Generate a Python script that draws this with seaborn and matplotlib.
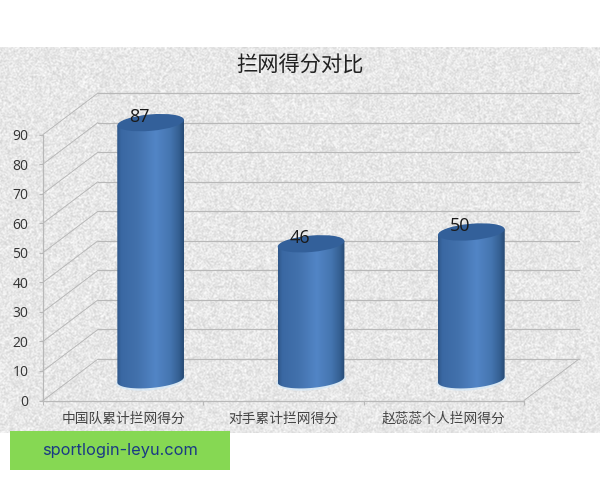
import numpy as np
import seaborn as sns
import matplotlib
matplotlib.use("Agg")
import matplotlib.pyplot as plt
from matplotlib.colors import LinearSegmentedColormap
from matplotlib.lines import Line2D
from matplotlib.patches import Ellipse, Rectangle
from matplotlib.path import Path
from matplotlib.transforms import Affine2D

categories = ["中国队累计拦网得分", "对手累计拦网得分", "赵蕊蕊个人拦网得分"]
values = [87, 46, 50]
y_ticks = [0, 10, 20, 30, 40, 50, 60, 70, 80, 90]
title_text = "拦网得分对比"
watermark = "sportlogin-leyu.com"

sns.set_style("white")
plt.rcParams["font.family"] = ["Noto Sans CJK SC", "DejaVu Sans"]
NUM_FONT = ["Open Sans", "DejaVu Sans"]

W, H = 600, 480
fig = plt.figure(figsize=(W / 100, H / 100), dpi=100, facecolor="white")


def box(left, right, top, bottom):
    return [left / W, 1 - bottom / H, (right - left) / W, (bottom - top) / H]


# Background layer in pixel coordinates
bg = fig.add_axes([0, 0, 1, 1], zorder=0)
bg.axis("off")
yy, xx = np.mgrid[47:433, 0:W]
tex = np.sin(xx * 12.9898 + yy * 78.233) * 43758.5453
tex = tex - np.floor(tex)
tex = (tex + np.roll(tex, 1, 0) + np.roll(tex, 1, 1) + np.roll(np.roll(tex, 1, 0), 1, 1)) / 4
bg.imshow(231 + (tex - 0.5) * 48, cmap="gray", vmin=0, vmax=255,
          extent=(0, W, 433, 47), aspect="auto", interpolation="bilinear", zorder=0)
bg.set_xlim(0, W)
bg.set_ylim(H, 0)

# Front axes: ticks and labels
AX_L, AX_R, AX_T, AX_B = 43, 524, 134.5, 400.5
DX, DY = 55, 41.5
GRID = "#b8b8b8"
front = fig.add_axes(box(AX_L, AX_R, AX_T, AX_B), zorder=1)
front.patch.set_alpha(0)
front.set_xlim(-0.5, 2.5)
front.set_ylim(0, 90)
for s in ["top", "right"]:
    front.spines[s].set_visible(False)
for s in ["left", "bottom"]:
    front.spines[s].set_color(GRID)
    front.spines[s].set_linewidth(0.9)
front.set_yticks(y_ticks)
front.set_yticklabels([str(v) for v in y_ticks], family=NUM_FONT)
front.tick_params(axis="y", left=True, length=3, color=GRID, labelsize=10,
                  labelcolor="#333333", pad=7.5)
front.set_xticks([-0.5, 0.5, 1.5, 2.5])
front.set_xticklabels([])
front.set_xticks([0, 1, 2], minor=True)
front.set_xticklabels(categories, minor=True, fontsize=9.9, color="#444444")
front.tick_params(axis="x", which="major", bottom=True, length=3, color=GRID)
front.tick_params(axis="x", which="minor", bottom=False, length=0, pad=8)

# Back wall and side wall lines
for v in y_ticks:
    x0, y0 = front.transData.transform((-0.5, v))
    y_px = H - y0
    bg.add_line(Line2D([x0, x0 + DX], [y_px, y_px - DY], color=GRID, lw=0.7, zorder=2))
    bg.add_line(Line2D([x0 + DX, AX_R + DX], [y_px - DY, y_px - DY], color=GRID, lw=0.9, zorder=2))
bg.add_line(Line2D([AX_R, AX_R + DX], [AX_B, AX_B - DY], color=GRID, lw=0.7, zorder=2))

# Bars, drawn by seaborn on an axes half-way into the depth
ax = fig.add_axes(box(AX_L + DX / 2, AX_R + DX / 2, AX_T - DY / 2, AX_B - DY / 2), zorder=2)
ax.patch.set_alpha(0)
sns.barplot(x=categories, y=values, ax=ax, width=0.417, color="#4474ae", saturation=1)
ax.set_xlim(-0.5, 2.5)
ax.set_ylim(0, 90)
ax.axis("off")

body_cmap = LinearSegmentedColormap.from_list(
    "cyl", [(0, "#2f5688"), (0.06, "#3a68a3"), (0.3, "#4271ac"), (0.58, "#5285c6"),
            (0.8, "#4575b0"), (0.93, "#345f92"), (1, "#274a74")])
grad = np.linspace(0, 1, 200)[None, :]
TILT = 5
B = 8.2

for bar, val in zip(ax.patches, values):
    x0 = bar.get_x()
    x1 = x0 + bar.get_width()
    (dl, dtop), (dr, dbot) = ax.transData.transform([(x0, val), (x1, 0)])
    cx = (dl + dr) / 2
    a = (dr - dl) / 2
    t = np.linspace(0, np.pi, 60)
    c, s = np.cos(np.radians(TILT)), np.sin(np.radians(TILT))
    ex = a * np.cos(t)
    ey = -B * np.sin(t)
    lower_x = cx + ex * c - ey * s
    lower_y = dbot + ex * s + ey * c
    verts = [(cx - a, dtop - a * s), (cx + a, dtop + a * s)] + list(zip(lower_x, lower_y))
    outline = Path(verts + [verts[0]], closed=False)
    # Soft pale halo under the base
    ax.add_patch(Ellipse((cx, dbot - 0.8), 2 * a + 3, 2 * B + 3, angle=TILT, transform=None,
                         fc="#d5e8f7", ec="none", alpha=0.8, clip_on=False, zorder=1.5))
    bar.set_visible(False)
    im = ax.imshow(grad, cmap=body_cmap, extent=(x0, x1, -6, val + 6), aspect="auto",
                   interpolation="bilinear", zorder=2)
    im.set_clip_box(fig.bbox)
    im.set_clip_path(outline, transform=Affine2D())
    cap = Ellipse((cx, dtop), 2 * a, 2 * B, angle=TILT, transform=None, fc="#33609a",
                  ec="none", clip_on=False, zorder=3)
    ax.add_patch(cap)
    ax.text(bar.get_x() + bar.get_width() / 2 - 0.07, val + 2.0, str(val),
            ha="center", va="center", fontsize=13, color="#1a1a1a",
            family=NUM_FONT, zorder=4)

ax.set_xlim(-0.5, 2.5)
ax.set_ylim(0, 90)

# Title and watermark
fig.text(300 / W, 1 - 65.5 / H, title_text, ha="center", va="center", fontsize=15.3,
         color="#222222", zorder=5)
fig.add_artist(Rectangle((10 / W, 1 - 470 / H), 220 / W, 39 / H, transform=fig.transFigure,
                         fc="#86d853", ec="none", zorder=6))
fig.text(120 / W, 1 - 450.5 / H, watermark, ha="center", va="center", fontsize=11.8,
         color="#1a3a84", family=["Inter", "DejaVu Sans"], zorder=7)

fig.savefig("out.png", dpi=100)
